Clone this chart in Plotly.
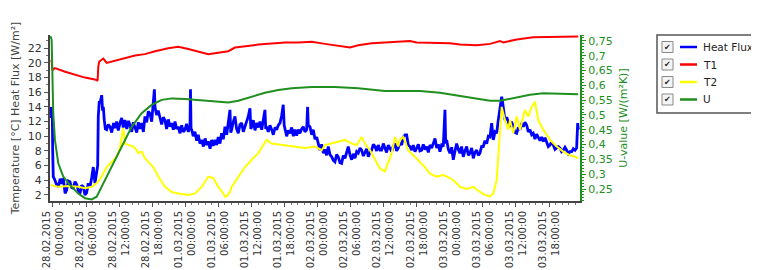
import pandas as pd
import plotly.graph_objects as go

# ---------------- data (hours after 28.02.2015 00:00) ----------------
START = pd.Timestamp("2015-02-28 00:00:00")

hf_hours = [-0.36, -0.30, -0.20, -0.13, -0.05, 0.05, 0.36, 0.66, 0.96, 1.30, 1.60, 1.87, 2.20, 2.49, 2.78,
            3.08, 3.38, 3.68, 3.99, 4.30, 4.59, 4.90, 5.20, 5.50, 5.81, 6.11, 6.40, 6.70, 7.02, 7.31,
            7.62, 7.93, 8.11, 8.22, 8.40, 8.53, 8.70, 8.84, 9.00, 9.13, 9.31, 9.50, 9.74, 10.03, 10.34,
            10.65, 11.0, 11.25, 11.56, 11.85, 12.16, 12.46, 12.75, 13.06, 13.4, 13.7, 13.97, 14.28, 14.57,
            14.88, 15.2, 15.48, 15.8, 16.09, 16.4, 16.69, 17.0, 17.29, 17.60, 17.91, 18.20, 18.40, 18.51,
            18.81, 19.10, 19.41, 19.72, 20.02, 20.32, 20.62, 20.92, 21.24, 21.54, 21.84, 22.14, 22.43,
            22.73, 23.05, 23.35, 23.65, 23.95, 24.25, 24.55, 24.86, 24.95, 25.05, 25.16, 25.45, 25.76,
            26.07, 26.36, 26.67, 26.98, 27.3, 27.6, 27.9, 28.18, 28.5, 28.79, 29.08, 29.39, 29.7, 29.99,
            30.30, 30.6, 30.90, 31.21, 31.52, 31.81, 32.11, 32.25, 32.42, 32.72, 33.02, 33.32, 33.62,
            33.93, 34.24, 34.53, 34.83, 35.13, 35.43, 35.74, 35.9, 36.05, 36.35, 36.66, 36.96, 37.25,
            37.56, 37.87, 38.16, 38.46, 38.60, 38.77, 39.06, 39.37, 39.68, 39.98, 40.29, 40.59, 40.88,
            41.18, 41.49, 41.78, 41.95, 42.09, 42.4, 42.70, 43.00, 43.31, 43.61, 43.91, 44.21, 44.51,
            44.81, 45.11, 45.41, 45.72, 46.03, 46.20, 46.32, 46.63, 46.94, 47.23, 47.54, 47.84, 48.14,
            48.44, 48.75, 49.04, 49.35, 49.65, 49.95, 50.26, 50.57, 50.87, 51.16, 51.46, 51.76, 52.07,
            52.38, 52.68, 52.98, 53.28, 53.58, 53.88, 54.19, 54.49, 54.79, 55.10, 55.39, 55.70, 56.01,
            56.31, 56.61, 56.91, 57.21, 57.51, 57.82, 58.12, 58.42, 58.72, 59.02, 59.33, 59.63, 59.93,
            60.23, 60.53, 60.83, 61.14, 61.45, 61.75, 62.05, 62.35, 62.65, 62.96, 63.27, 63.56, 63.87,
            64.17, 64.46, 64.77, 65.08, 65.37, 65.68, 65.99, 66.28, 66.58, 66.89, 67.19, 67.49, 67.80,
            68.10, 68.40, 68.71, 69.00, 69.31, 69.62, 69.91, 70.21, 70.51, 70.81, 71.12, 71.25, 71.43,
            71.73, 72.03, 72.33, 72.63, 72.94, 73.24, 73.54, 73.84, 74.14, 74.44, 74.75, 75.06, 75.36,
            75.66, 75.96, 76.26, 76.56, 76.87, 77.17, 77.47, 77.77, 78.07, 78.38, 78.69, 78.99, 79.29,
            79.59, 79.89, 80.2, 80.50, 80.79, 81.10, 81.41, 81.55, 81.70, 82.01, 82.32, 82.61, 82.91,
            83.21, 83.51, 83.82, 84.13, 84.43, 84.73, 85.03, 85.33, 85.64, 85.95, 86.24, 86.54, 86.85,
            87.14, 87.45, 87.75, 88.05, 88.36, 88.66, 88.96, 89.27, 89.57, 89.87, 90.17, 90.47, 90.77,
            91.08, 91.39, 91.69, 91.98, 92.28, 92.58, 92.89, 93.20, 93.50, 93.80, 94.11, 94.41, 94.71,
            95.01, 95.20, 95.30, 95.45]
hf_values = [12.5, 14.0, 12.8, 13.6, 8.0, 4.5, 4.0, 3.4, 3.1, 4.2, 3.5, 4.3, 2.2, 2.7, 3.9,
             3.8, 3.0, 2.9, 3.8, 3.4, 2.6, 2.2, 3.3, 3.1, 2.0, 2.3, 3.6, 3.0, 4.3, 5.8,
             3.6, 4.9, 6.0, 12.7, 14.8, 14.5, 15.2, 15.6, 13.5, 14.0, 12.2, 11.0, 10.9, 11.6, 11.3,
             10.5, 11.8, 11.1, 12.0, 10.8, 11.8, 12.5, 11.2, 12.2, 11.0, 12.1, 11.5, 10.6, 11.9,
             11.3, 10.5, 11.9, 11.0, 11.8, 10.6, 12.7, 11.9, 13.4, 13.1, 12.0, 14.5, 16.4, 14.0,
             12.9, 13.5, 12.7, 11.6, 12.6, 12.2, 11.0, 12.3, 11.3, 11.8, 10.9, 12.0, 11.0,
             11.3, 10.4, 11.5, 10.6, 10.9, 11.7, 10.6, 11.3, 16.4, 11.0, 10.9, 10.0, 10.6,
             9.4, 10.2, 9.0, 9.5, 8.6, 9.7, 8.8, 9.3, 8.3, 9.5, 8.7, 9.5, 8.8, 9.9,
             9.0, 10.4, 9.6, 11.3, 10.2, 12.2, 13.6, 10.5, 10.9, 12.0, 12.7, 11.0, 10.4,
             11.6, 11.8, 10.6, 11.3, 12.2, 12.7, 13.8, 11.0, 11.3, 12.2, 10.8, 11.8, 11.2,
             12.0, 10.9, 12.3, 13.6, 11.0, 11.3, 10.6, 11.5, 10.9, 10.2, 11.2, 10.9, 11.5,
             11.8, 12.8, 14.3, 11.5, 10.9, 10.0, 10.8, 10.4, 11.2, 10.0, 10.9, 10.1, 10.9,
             10.4, 11.0, 11.3, 10.6, 10.9, 14.0, 11.5, 11.3, 10.2, 10.9, 9.6, 9.9, 9.0,
             8.1, 8.9, 7.7, 8.2, 7.4, 8.6, 7.5, 7.2, 6.7, 6.5, 7.5, 7.2, 6.4,
             6.3, 7.4, 7.0, 8.0, 8.6, 7.5, 6.8, 7.6, 7.0, 7.9, 7.7, 8.4, 8.1,
             7.3, 7.7, 8.3, 7.2, 7.8, 8.1, 8.9, 8.6, 8.0, 8.8, 8.1, 8.1, 9.0,
             8.4, 7.8, 8.8, 8.4, 7.9, 8.7, 9.0, 8.0, 8.4, 9.2, 8.8, 9.9, 10.2,
             10.2, 8.8, 8.6, 8.1, 8.8, 7.9, 8.4, 8.9, 8.0, 8.1, 8.9, 8.2, 8.6,
             7.8, 8.8, 8.4, 9.0, 9.7, 8.4, 8.9, 7.9, 8.8, 8.6, 13.6, 9.0, 9.5,
             8.2, 7.7, 8.5, 6.8, 8.0, 9.0, 8.2, 7.7, 8.6, 7.2, 8.0, 8.6, 7.4,
             7.7, 8.4, 7.0, 7.8, 8.1, 7.4, 7.7, 8.6, 8.6, 9.4, 9.0, 10.0, 9.9,
             11.8, 9.5, 10.6, 10.4, 12.2, 13.6, 15.4, 14.8, 14.0, 12.2, 12.6, 11.8, 11.3,
             12.0, 11.3, 10.5, 10.4, 11.2, 10.9, 11.8, 11.3, 11.9, 11.5, 10.6, 10.9, 10.2,
             10.4, 9.6, 10.3, 9.9, 9.4, 9.9, 9.3, 9.8, 9.3, 8.6, 8.8, 9.2, 8.8,
             8.2, 8.4, 8.6, 8.4, 7.9, 8.1, 8.5, 8.1, 7.6, 7.9, 7.9, 8.3, 8.1,
             8.4, 11.8, 11.0, 10.9]

t1_hours = [-0.40, -0.25, -0.10, 0.36, 2.2, 4.0, 5.81, 7.8, 8.0, 8.11, 8.22, 8.40, 9.0, 9.13, 9.74,
            11.85, 14.88, 16.69, 18.51, 20.92, 22.73, 24.55, 26.36, 28.18, 29.99, 31.81, 33.02,
            34.83, 37.25, 39.06, 42.09, 44.51, 46.94, 49.35, 51.76, 53.88, 55.39, 57.82, 60.23,
            62.65, 64.77, 66.0, 69.0, 72.03, 73.84, 76.87, 79.29, 81.10, 81.70, 84.13, 87.14,
            90.17, 93.20, 95.30]
t1_values = [20.2, 20.3, 19.0, 19.3, 18.8, 18.4, 18.0, 17.7, 17.6, 17.7, 19.5, 20.2, 20.5, 20.6, 20.0,
             20.4, 21.0, 21.2, 21.6, 22.0, 22.2, 21.9, 21.5, 21.2, 21.4, 21.6, 22.1,
             22.3, 22.5, 22.6, 22.8, 22.8, 22.9, 22.6, 22.3, 22.1, 22.4, 22.7, 22.8,
             22.9, 23.0, 22.8, 22.8, 22.7, 22.5, 22.4, 22.6, 23.0, 22.8, 23.2, 23.5,
             23.5, 23.5, 23.6]

t2_hours = [-0.36, 0.96, 2.78, 4.59, 5.81, 7.02, 7.93, 8.84, 9.74, 10.65, 11.56, 12.16, 12.46, 12.75,
            13.06, 13.97, 14.57, 15.2, 15.48, 16.09, 16.69, 17.29, 18.20, 19.10, 20.32, 21.54, 22.73,
            24.55, 25.76, 26.98, 28.18, 29.08, 29.99, 30.90, 31.21, 31.52, 32.11, 32.42, 33.62, 34.83,
            36.05, 37.25, 38.16, 38.77, 39.68, 41.49, 43.31, 45.72, 47.54, 48.75, 49.35, 50.57, 51.76,
            52.98, 54.19, 55.10, 56.01, 56.61, 57.51, 58.42, 59.33, 60.23, 60.83, 61.45, 62.05, 62.65,
            62.96, 63.56, 64.46, 65.37, 66.58, 67.49, 68.40, 69.62, 70.81, 72.03, 72.94, 73.84, 75.06,
            76.26, 77.47, 78.38, 79.29, 79.89, 80.50, 80.79, 81.10, 81.41, 82.01, 82.61, 82.91, 83.51,
            84.13, 84.73, 85.64, 86.24, 86.85, 87.45, 88.05, 88.96, 90.17, 91.39, 92.58, 93.80, 94.71,
            95.30]
t2_values = [3.35, 3.1, 3.2, 3.1, 2.9, 3.1, 3.6, 4.5, 5.8, 6.5, 7.2, 8.5, 9.9, 11.1,
             9.0, 8.8, 8.6, 8.1, 7.7, 7.9, 7.0, 6.5, 5.8, 4.5, 3.1, 2.4, 2.2,
             2.0, 2.2, 3.1, 4.5, 4.3, 3.1, 2.2, 1.8, 1.8, 2.4, 3.1, 4.5, 5.8,
             6.8, 7.7, 8.8, 9.5, 9.0, 8.8, 8.6, 8.4, 8.6, 8.1, 8.8, 9.0, 9.3,
             9.5, 9.0, 8.8, 9.9, 9.0, 8.1, 6.8, 5.6, 5.2, 6.3, 7.7, 9.9, 8.6,
             9.5, 9.9, 8.1, 7.4, 6.5, 5.8, 4.9, 4.5, 4.7, 4.3, 3.8, 3.1, 2.8,
             3.1, 2.4, 2.0, 1.8, 2.2, 4.0, 7.2, 10.9, 14.0, 12.2, 10.9, 12.2, 10.4,
             12.7, 10.9, 13.6, 12.7, 14.0, 14.7, 12.2, 10.9, 9.5, 8.6, 7.9, 7.4, 7.2,
             7.0]

u_hours = [-0.54, -0.36, -0.24, -0.13, 0.05, 0.36, 0.96, 1.87, 3.08, 4.59, 5.81, 7.02, 7.93, 8.84,
           10.03, 11.25, 12.75, 14.28, 16.09, 17.91, 19.72, 21.54, 23.95, 26.36, 28.79, 31.81, 33.62,
           36.05, 38.46, 40.88, 43.31, 46.94, 51.16, 55.39, 58.42, 60.23, 63.27, 66.58, 70.21, 73.84,
           76.87, 79.29, 81.10, 83.51, 86.54, 88.96, 91.98, 95.30]
u_values = [0.765, 0.762, 0.753, 0.652, 0.506, 0.415, 0.337, 0.292, 0.263, 0.235, 0.219, 0.215, 0.224,
            0.258, 0.303, 0.348, 0.404, 0.460, 0.506, 0.534, 0.551, 0.556, 0.554, 0.551, 0.547, 0.542,
            0.548, 0.562, 0.575, 0.584, 0.590, 0.594, 0.594, 0.590, 0.584, 0.581, 0.581, 0.581, 0.575,
            0.564, 0.554, 0.548, 0.548, 0.556, 0.568, 0.573, 0.571, 0.570]

series_names = ["Heat Flux", "T1", "T2", "U"]
series_colors = ["#0000ff", "#ff0000", "#ffff00", "#1f8f1f"]

x_range_hours = [-0.54, 95.62]
left_range = [1.17, 23.81]
right_range = [0.2095, 0.770]
left_ticks = [2, 4, 6, 8, 10, 12, 14, 16, 18, 20, 22]
right_ticks = [0.25, 0.3, 0.35, 0.4, 0.45, 0.5, 0.55, 0.6, 0.65, 0.7, 0.75]


def to_time(hours):
    return START + pd.to_timedelta(hours, unit="h")


# ---------------- figure ----------------
# The page body has an 8px margin, so the figure is drawn 8px in from the window's edge.
OFF = 8
W, H = 759 - OFF, 270 - OFF
L, T = 50 - OFF, 35 - OFF
PW, PH = 530, 166
R, B = W - L - PW, H - T - PH
FONT = "DejaVu Sans, Verdana, sans-serif"
GREEN = series_colors[3]

fig = go.Figure()
fig.add_trace(go.Scatter(x=to_time(hf_hours), y=hf_values, name=series_names[0], mode="lines",
                         line=dict(color=series_colors[0], width=2.8)))
fig.add_trace(go.Scatter(x=to_time(t1_hours), y=t1_values, name=series_names[1], mode="lines",
                         line=dict(color=series_colors[1], width=2)))
fig.add_trace(go.Scatter(x=to_time(t2_hours), y=t2_values, name=series_names[2], mode="lines",
                         line=dict(color=series_colors[2], width=2)))
fig.add_trace(go.Scatter(x=to_time(u_hours), y=u_values, name=series_names[3], mode="lines",
                         yaxis="y2", line=dict(color=series_colors[3], width=2)))

fig.update_layout(
    width=W, height=H,
    margin=dict(l=L, r=R, t=T, b=B, pad=0, autoexpand=False),
    paper_bgcolor="white", plot_bgcolor="white",
    showlegend=False,
    separators=",.",
    font=dict(family=FONT, size=11, color="#333333"),
    xaxis=dict(
        type="date", automargin=False,
        range=[to_time(x_range_hours[0]), to_time(x_range_hours[1])],
        tickmode="linear", tick0=START, dtick=6 * 3600 * 1000,
        tickformat="%d.%m.%Y<br>%H:%M:%S", tickangle=-90,
        tickfont=dict(size=10, color="#333333"),
        showgrid=False, zeroline=False,
        showline=True, linecolor="#444444", linewidth=2,
        ticks="outside", ticklen=4, tickcolor="#555555",
        minor=dict(ticks="outside", ticklen=2, tickcolor="#777777", dtick=72 * 60 * 1000),
    ),
    yaxis=dict(
        automargin=False,
        range=left_range, tickmode="array", tickvals=left_ticks,
        showgrid=False, zeroline=False,
        showline=True, linecolor="#444444", linewidth=2,
        ticks="outside", ticklen=4, tickcolor="#555555",
        minor=dict(ticks="outside", ticklen=2, tickcolor="#777777", dtick=1),
        tickfont=dict(size=11, color="#333333"),
        title=dict(text="Temperature [°C] Heat Flux [W/m²]", font=dict(size=11, color="#444444"),
                   standoff=6),
    ),
    yaxis2=dict(
        automargin=False,
        overlaying="y", side="right", range=right_range,
        tickmode="array", tickvals=right_ticks, tickformat=".2~f",
        showgrid=False, zeroline=False,
        showline=True, linecolor=GREEN, linewidth=2,
        ticks="outside", ticklen=4, tickcolor=GREEN,
        minor=dict(ticks="outside", ticklen=2, tickcolor=GREEN, dtick=0.01),
        tickfont=dict(size=11, color=GREEN),
        title=dict(text="U-value [W/(m²K)]", font=dict(size=11, color=GREEN), standoff=8),
    ),
)

# ---------------- legend box (checkbox style, drawn as shapes + text) ----------------
# positions are given in window pixels and converted to paper fractions
def pxx(px):
    return (px - OFF - L) / PW


def pxy(py):
    return (H - B - (py - OFF)) / PH


shapes = [dict(type="rect", xref="paper", yref="paper", x0=pxx(657), x1=pxx(790), y0=pxy(113), y1=pxy(35),
               line=dict(color="#555555", width=1.5), fillcolor="white", layer="above")]
annotations = []
row_y = [47, 64.5, 82, 99.5]
for name, color, ry in zip(series_names, series_colors, row_y):
    shapes.append(dict(type="rect", xref="paper", yref="paper", x0=pxx(662), x1=pxx(673),
                       y0=pxy(ry + 5.5), y1=pxy(ry - 5.5), line=dict(color="#8a8a8a", width=1),
                       fillcolor="#f4f4f4", layer="above"))
    shapes.append(dict(type="line", xref="paper", yref="paper", x0=pxx(680), x1=pxx(697),
                       y0=pxy(ry), y1=pxy(ry), line=dict(color=color, width=2.5), layer="above"))
    annotations.append(dict(xref="paper", yref="paper", x=pxx(667.5), y=pxy(ry), text="✔",
                            showarrow=False, xanchor="center", yanchor="middle",
                            font=dict(size=8, color="#222222", family=FONT)))
    annotations.append(dict(xref="paper", yref="paper", x=pxx(702), y=pxy(ry), text=name,
                            showarrow=False, xanchor="left", yanchor="middle", borderpad=0,
                            font=dict(size=10.5, color="#222222", family=FONT)))
fig.update_layout(shapes=shapes, annotations=annotations)

fig.write_html("out.html")
